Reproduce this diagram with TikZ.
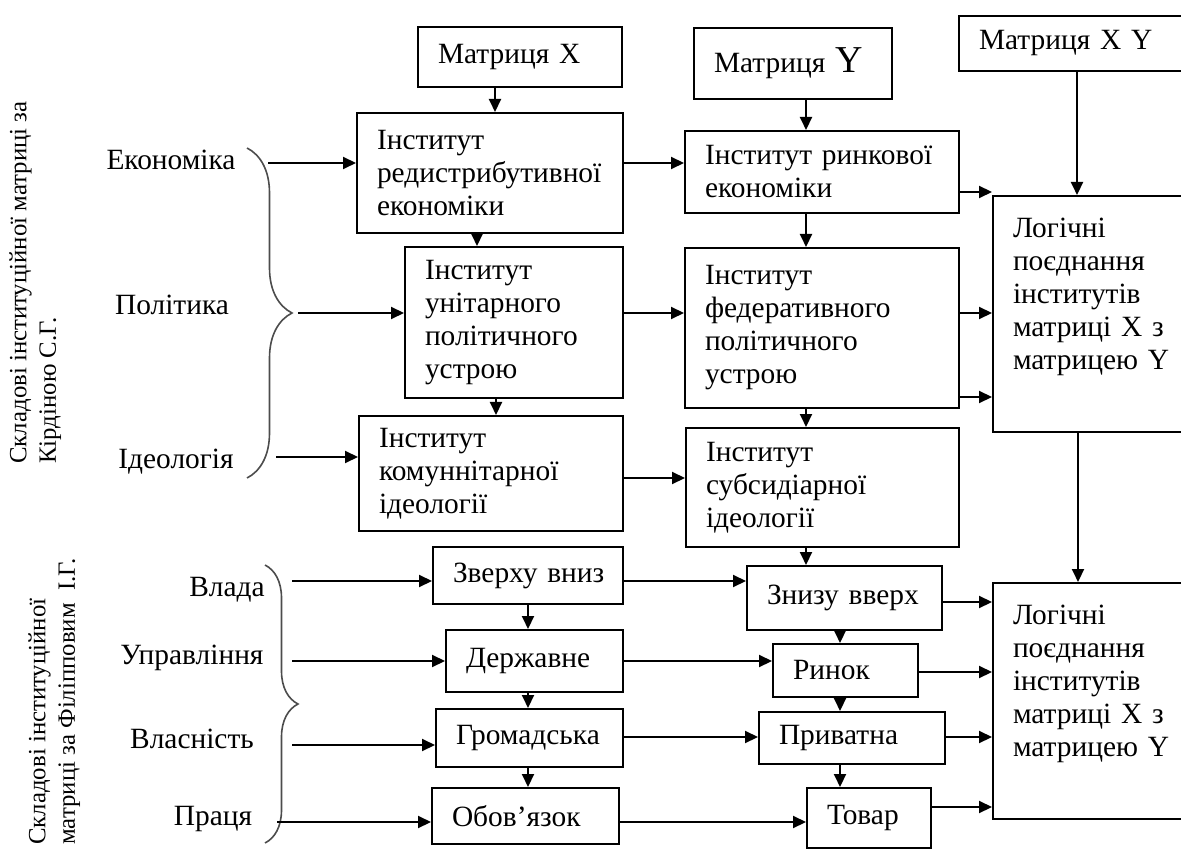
\documentclass[tikz,border=0pt]{standalone}
\usepackage{fontspec}
\setmainfont{Liberation Serif}
\usetikzlibrary{
    arrows.meta,
    decorations.pathreplacing,
}
\newcommand{\boxfont}{\fontsize{14.7pt}{16.5pt}\selectfont}
\newcommand{\sidefont}{\fontsize{12.4pt}{14.8pt}\selectfont}
\tikzset{
    >={Triangle[length=6.5pt,width=6pt]}
}

\begin{document}
\begin{tikzpicture}[
    x=0.5pt,y=-0.5pt,
    box/.style={draw,line width=1pt,anchor=north west,align=left,inner xsep=10pt,inner ysep=1pt,font=\boxfont},
    lbl/.style={font=\boxfont,inner sep=0pt},
    side/.style={rotate=90,anchor=north west,align=left,inner sep=0pt,font=\sidefont},
    arr/.style={->,line width=1pt},
    brc/.style={decorate,decoration={brace,amplitude=#1},line width=0.8pt,black!70}
    ]
    \useasboundingbox (0,0) rectangle (1181,849);
    \clip (0,0) rectangle (1181,849);

    % matrices
    \node[box,text width=82pt,minimum height=30pt] (matx) at (417,26) {Матриця~X};
    \node[box,text width=79pt,minimum height=35.5pt] (maty) at (693,27) {Матриця~{\fontsize{19pt}{19pt}\selectfont Y}};
    \node[box,text width=110pt,minimum height=27.5pt] (matxy) at (958,15) {Матриця~X~Y};

    % institutes after Kirdina
    \node[box,text width=113pt,minimum height=60pt] (redist) at (356,112) {Інститут\\редистрибутивної\\економіки};
    \node[box,text width=117pt,minimum height=41pt] (rynk) at (684,130) {Інститут~ринкової\\економіки};
    \node[box,text width=89pt,minimum height=75.5pt] (unit) at (404,246) {Інститут\\унітарного\\політичного\\устрою};
    \node[box,text width=117pt,minimum height=80pt] (fed) at (684,247) {Інститут\\федеративного\\політичного\\устрою};
    \node[box,text width=112pt,minimum height=57.5pt] (komun) at (358,415) {Інститут\\комуннітарної\\ідеології};
    \node[box,text width=116.5pt,minimum height=59.5pt] (subs) at (685,427) {Інститут\\субсидіарної\\ідеології};
    \node[box,text width=95pt,minimum height=118pt] (logA) at (992,195) {Логічні\\поєднання\\інститутів\\матриці~X~з\\матрицею~Y\\[4pt]\mbox{}};

    % institutes after Filippov
    \node[box,text width=75pt,minimum height=28.5pt] (zverkhu) at (432,546) {Зверху~вниз};
    \node[box,text width=77.5pt,minimum height=32pt] (znyzu) at (746,565) {Знизу~вверх};
    \node[box,text width=68.5pt,minimum height=31pt] (derzh) at (445,629) {Державне};
    \node[box,text width=52.5pt,minimum height=26.5pt] (rynok) at (772,643) {Ринок};
    \node[box,text width=73.5pt,minimum height=29pt] (hromad) at (435,708) {Громадська};
    \node[box,text width=73pt,minimum height=26pt] (pryvat) at (758,711) {Приватна};
    \node[box,text width=73.5pt,minimum height=28pt] (obov) at (431,787) {Обов’язок};
    \node[box,text width=42pt,minimum height=30pt] (tovar) at (806,787) {Товар};
    \node[box,text width=95pt,minimum height=118pt] (logB) at (992,582) {Логічні\\поєднання\\інститутів\\матриці~X~з\\матрицею~Y\\[4pt]\mbox{}};

    % left side
    \node[side] (kirdina) at (9,464) {Складові інституційної матриці за\\Кірдіною С.Г.};
    \node[side] (filipov) at (28,845) {Складові інституційної\\матриці за Філіпповим\ \ І.Г.};

    \node[lbl] (econ) at (171,160) {Економіка};
    \node[lbl] (polit) at (172,305) {Політика};
    \node[lbl] (ideol) at (176,462) {Ідеологія};
    \node[lbl] (vlada) at (227,590) {Влада};
    \node[lbl] (uprav) at (192,658) {Управління};
    \node[lbl] (vlasn) at (192,739) {Власність};
    \node[lbl] (pratsia) at (213,819) {Праця};

    \draw[brc=22.5pt] (247,148) -- (247,478);
    \draw[brc=16.5pt] (265,565) -- (265,843);

    \coordinate (bEcon) at (268,163);
    \coordinate (bPolit) at (298,313);
    \coordinate (bIdeol) at (276,457);
    \coordinate (bVlada) at (292,581);
    \coordinate (bUprav) at (292,661);
    \coordinate (bVlasn) at (292,745);
    \coordinate (bPratsia) at (277,822);

    \draw[arr] (bEcon) -- (redist.west |- bEcon);
    \draw[arr] (bPolit) -- (unit.west |- bPolit);
    \draw[arr] (bIdeol) -- (komun.west |- bIdeol);
    \draw[arr] (bVlada) -- (zverkhu.west |- bVlada);
    \draw[arr] (bUprav) -- (derzh.west |- bUprav);
    \draw[arr] (bVlasn) -- (hromad.west |- bVlasn);
    \draw[arr] (bPratsia) -- (obov.west |- bPratsia);

    % downward arrows
    \draw[arr] (matx.south -| 495,0) -- (redist.north -| 495,0);
    \draw[arr] (maty.south -| 806,0) -- (rynk.north -| 806,0);
    \draw[arr] (matxy.south -| 1077,0) -- (logA.north -| 1077,0);
    \draw[arr] (logA.south -| 1078,0) -- (logB.north -| 1078,0);
    \draw[arr] (redist.south -| 477,0) -- (unit.north -| 477,0);
    \draw[arr] (unit.south -| 496,0) -- (komun.north -| 496,0);
    \draw[arr] (rynk.south -| 806,0) -- (fed.north -| 806,0);
    \draw[arr] (fed.south -| 806,0) -- (subs.north -| 806,0);
    \draw[arr] (subs.south -| 806,0) -- (znyzu.north -| 806,0);
    \draw[arr] (zverkhu.south -| 528,0) -- (derzh.north -| 528,0);
    \draw[arr] (derzh.south -| 528,0) -- (hromad.north -| 528,0);
    \draw[arr] (hromad.south -| 528,0) -- (obov.north -| 528,0);
    \draw[arr] (znyzu.south -| 840,0) -- (rynok.north -| 840,0);
    \draw[arr] (rynok.south -| 840,0) -- (pryvat.north -| 840,0);
    \draw[arr] (pryvat.south -| 840,0) -- (tovar.north -| 840,0);

    % rightward arrows
    \draw[arr] (redist.east |- 0,163) -- (rynk.west |- 0,163);
    \draw[arr] (rynk.east |- 0,192) -- (logA.west |- 0,192);
    \draw[arr] (unit.east |- 0,313) -- (fed.west |- 0,313);
    \draw[arr] (fed.east |- 0,313) -- (logA.west |- 0,313);
    \draw[arr] (fed.east |- 0,397) -- (logA.west |- 0,397);
    \draw[arr] (komun.east |- 0,478) -- (subs.west |- 0,478);
    \draw[arr] (zverkhu.east |- 0,581) -- (znyzu.west |- 0,581);
    \draw[arr] (derzh.east |- 0,661) -- (rynok.west |- 0,661);
    \draw[arr] (hromad.east |- 0,737) -- (pryvat.west |- 0,737);
    \draw[arr] (obov.east |- 0,822) -- (tovar.west |- 0,822);
    \draw[arr] (znyzu.east |- 0,602) -- (logB.west |- 0,602);
    \draw[arr] (rynok.east |- 0,672) -- (logB.west |- 0,672);
    \draw[arr] (pryvat.east |- 0,737) -- (logB.west |- 0,737);
    \draw[arr] (tovar.east |- 0,807) -- (logB.west |- 0,807);
\end{tikzpicture}
\end{document}
